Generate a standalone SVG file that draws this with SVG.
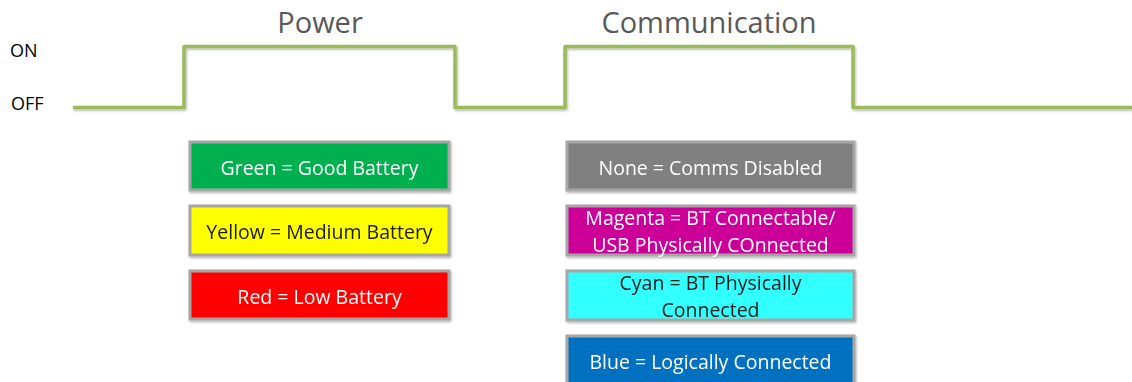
<svg xmlns="http://www.w3.org/2000/svg" width="1132" height="382" viewBox="0 0 1132 382">
<defs>
<filter id="sh" x="-5%" y="-20%" width="110%" height="140%"><feDropShadow dx="1" dy="1.5" stdDeviation="1" flood-color="#000" flood-opacity="0.3"/></filter>
</defs>
<style>
.wave{fill:none;stroke:#9BBB59;stroke-width:3.5;stroke-linejoin:round}
.lvl{font-family:"Open Sans","Liberation Sans",sans-serif;font-size:18px;fill:#000}
.ttl{font-family:"Open Sans","Liberation Sans",sans-serif;font-size:29px;fill:#595959;text-anchor:middle}
.box{stroke:#A6A6A6;stroke-width:3}
.lab{font-family:"Open Sans","Liberation Sans",sans-serif;font-size:19.5px;text-anchor:middle}
.w{fill:#fff}
.k{fill:#1a1a1a}
</style>
<rect width="1132" height="382" fill="#fff"/>
<text class="lvl" x="10" y="57">ON</text>
<text class="lvl" x="11" y="110">OFF</text>
<text class="ttl" x="320" y="33">Power</text>
<text class="ttl" x="709" y="33">Communication</text>
<g id="connectors" filter="url(#sh)">
<path class="wave" d="M73 107.5 H184 V46.5 H455 V107.5 H565 V46.5 H853 V107.5 H1132"/>
</g>
<g id="green" filter="url(#sh)"><rect class="box" x="190" y="142" width="259" height="48" fill="#00B050"/><text class="lab w" x="319.5" y="174.5">Green = Good Battery</text></g>
<g id="yellow" filter="url(#sh)"><rect class="box" x="190" y="206" width="259" height="49" fill="#FFFF00"/><text class="lab k" x="319.5" y="239">Yellow = Medium Battery</text></g>
<g id="red" filter="url(#sh)"><rect class="box" x="190" y="271" width="259" height="48" fill="#FF0000"/><text class="lab w" x="319.5" y="303.5">Red = Low Battery</text></g>
<g id="none" filter="url(#sh)"><rect class="box" x="567" y="142" width="287" height="48" fill="#808080"/><text class="lab w" x="710.5" y="174.5">None = Comms Disabled</text></g>
<g id="magenta" filter="url(#sh)"><rect class="box" x="567" y="206" width="287" height="49" fill="#CC0099"/><text class="lab w" x="710.5" y="224.5">Magenta = BT Connectable/</text><text class="lab w" x="710.5" y="251.5">USB Physically COnnected</text></g>
<g id="cyan" filter="url(#sh)"><rect class="box" x="567" y="271" width="287" height="49" fill="#33FFFF"/><text class="lab k" x="710.5" y="290">Cyan = BT Physically</text><text class="lab k" x="710.5" y="316.5">Connected</text></g>
<g id="blue" filter="url(#sh)"><rect class="box" x="567" y="336" width="287" height="52" fill="#0070C0"/><text class="lab w" x="710.5" y="368.5">Blue = Logically Connected</text></g>
</svg>
